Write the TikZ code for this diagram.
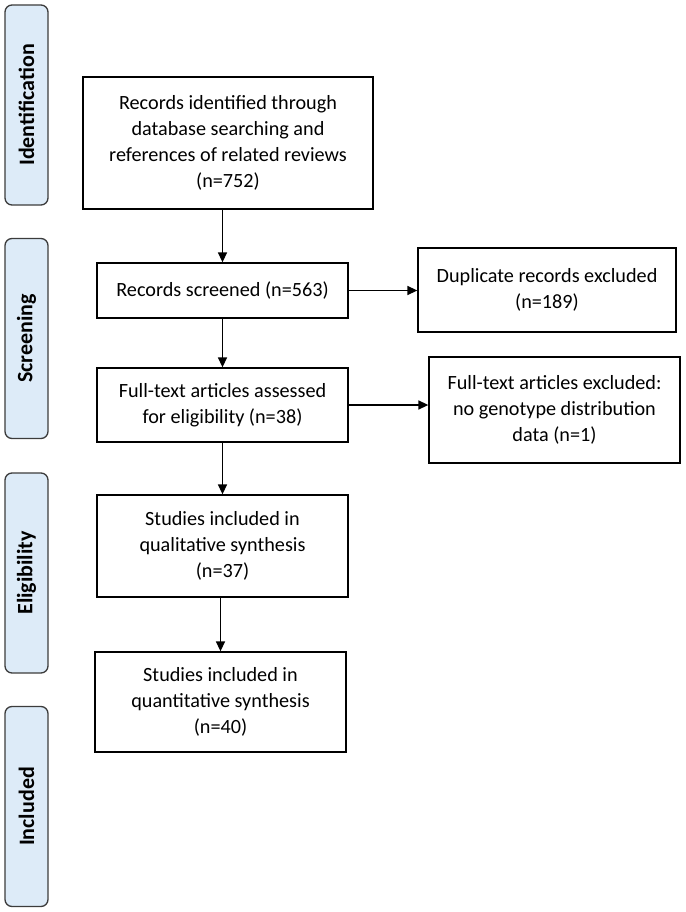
\documentclass[tikz,border=0pt]{standalone}
\usepackage{fontspec}
\setmainfont{Carlito}
\usetikzlibrary{arrows.meta,positioning}
\definecolor{stagefill}{RGB}{221,235,248}
\definecolor{stageline}{RGB}{60,60,60}
\tikzset{font=\fontsize{20.2}{26}\selectfont}
\tikzset{box/.style={draw=black,line width=1.3pt,align=center,inner sep=2pt}}
\tikzset{stage/.style={draw=stageline,fill=stagefill,line width=1.3pt,rounded corners=7pt,
    rotate=90,minimum width=200pt,minimum height=43pt,font=\fontsize{22}{24}\selectfont\bfseries}}
\tikzset{flow/.style={line width=1.5pt,-{Triangle[length=10pt,width=9pt]}}}

\begin{document}
\begin{tikzpicture}[x=1pt,y=-1pt]
  \useasboundingbox (0,0) rectangle (685,912);
  % phases on the left
  \foreach \y/\t in {105/Identification,338.5/Screening,573/Eligibility,806.5/Included}{
    \node[stage] (\t) at (26.5,\y) {\t};
  };
  % main column
  \node[box,minimum width=290pt,minimum height=132pt] (found) at (228,143)
    {Records identified through\\database searching and\\references of related reviews\\(n=752)};
  \node[box,minimum width=251pt,minimum height=55pt] (screened) at (222.5,290.5)
    {Records screened (n=563)};
  \node[box,minimum width=251pt,minimum height=74pt] (assessed) at (222.5,405)
    {Full-text articles assessed\\for eligibility (n=38)};
  \node[box,minimum width=251pt,minimum height=102pt] (qualit) at (222.5,546)
    {Studies included in\\qualitative synthesis\\(n=37)};
  \node[box,minimum width=251pt,minimum height=100pt] (quantit) at (220.5,702)
    {Studies included in\\quantitative synthesis\\(n=40)};
  % exclusions
  \node[box,minimum width=258pt,minimum height=84pt] (dupl) at (547,290)
    {Duplicate records excluded\\(n=189)};
  \node[box,minimum width=251pt,minimum height=106pt] (nodata) at (554.5,410)
    {Full-text articles excluded:\\no genotype distribution\\data (n=1)};
  % arrows
  \draw[flow] (found.south -| screened.north) -- (screened.north);
  \draw[flow] (screened) -- (assessed);
  \draw[flow] (assessed) -- (qualit);
  \draw[flow] (qualit.south -| quantit.north) -- (quantit.north);
  \draw[flow] (screened.east) -- (screened.east -| dupl.west);
  \draw[flow] (assessed.east) -- (assessed.east -| nodata.west);
\end{tikzpicture}
\end{document}
